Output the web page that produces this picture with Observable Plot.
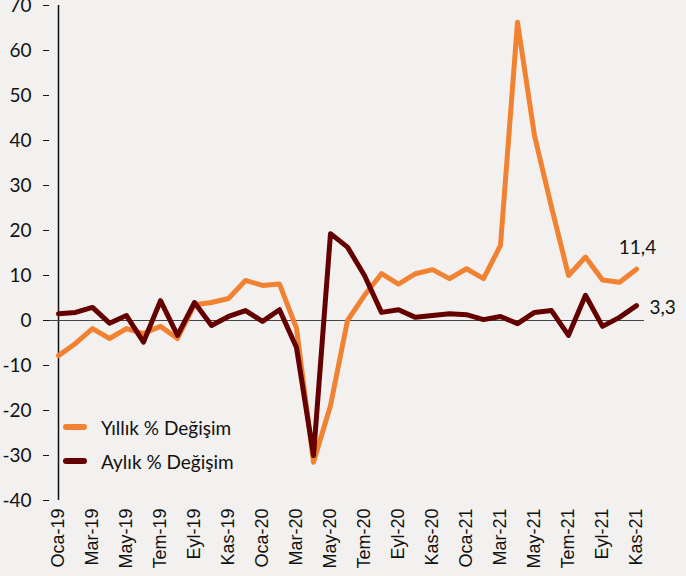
<!DOCTYPE html>
<html>
<head>
<meta charset="utf-8">
<script src="https://cdn.jsdelivr.net/npm/d3@7"></script>
<script src="https://cdn.jsdelivr.net/npm/@observablehq/plot@0.6"></script>
<style>
  html, body { margin: 0; padding: 0; background: #f2f1ef; }
  #wrap { position: relative; width: 686px; height: 576px; }
  #legend { position: absolute; left: 63px; top: 410px; font-family: Lato, "Open Sans", sans-serif; font-size: 19px; color: #111; }
  .row { display: flex; align-items: center; height: 34px; }
  .sw { width: 24px; height: 6px; border-radius: 3px; margin-right: 14px; }
</style>
</head>
<body>
<div id="wrap"></div>
<script>
const months = ["Oca-19","Şub-19","Mar-19","Nis-19","May-19","Haz-19","Tem-19","Ağu-19","Eyl-19","Eki-19","Kas-19","Ara-19",
  "Oca-20","Şub-20","Mar-20","Nis-20","May-20","Haz-20","Tem-20","Ağu-20","Eyl-20","Eki-20","Kas-20","Ara-20",
  "Oca-21","Şub-21","Mar-21","Nis-21","May-21","Haz-21","Tem-21","Ağu-21","Eyl-21","Eki-21","Kas-21"];
const yillik = [-7.8,-5.1,-1.8,-4.0,-1.8,-2.9,-1.3,-4.0,3.5,4.0,4.9,8.9,
  7.8,8.1,-1.7,-31.5,-18.9,0.0,5.6,10.4,8.1,10.4,11.3,9.3,
  11.5,9.3,16.7,66.3,41.1,25.2,10.0,14.1,9.0,8.5,11.4];
const aylik = [1.5,1.8,2.9,-0.6,1.1,-4.8,4.4,-3.3,4.0,-1.1,0.9,2.2,
  -0.2,2.4,-6.0,-30.0,19.3,16.3,10.0,1.8,2.4,0.7,1.1,1.5,
  1.3,0.2,0.9,-0.7,1.8,2.2,-3.3,5.6,-1.3,0.7,3.3];
const seriesNames = ["Yıllık % Değişim","Aylık % Değişim"];
const colors = ["#f08232","#650000"];
const yTicks = [-40,-30,-20,-10,0,10,20,30,40,50,60,70];
const xTicks = months.filter((_, i) => i % 2 === 0);

const rowsY = months.map((m, i) => ({month: m, value: yillik[i]}));
const rowsA = months.map((m, i) => ({month: m, value: aylik[i]}));
const last = months.length - 1;

const chart = Plot.plot({
  width: 686,
  height: 576,
  marginLeft: 49,
  marginRight: 42,
  marginTop: 5,
  marginBottom: 76,
  style: {background: "#f2f1ef", fontFamily: "Lato, 'Open Sans', sans-serif", color: "#111"},
  x: {type: "point", domain: months, padding: 0, axis: null},
  y: {domain: [-40, 70]},
  marks: [
    Plot.axisY({ticks: yTicks, tickSize: 6, tickPadding: 12, fontSize: 19, label: null, tickFormat: d => String(d)}),
    Plot.ruleX([months[0]], {y1: -40, y2: 70, stroke: "#111", strokeWidth: 1.5}),
    Plot.text(xTicks, {x: d => d, frameAnchor: "bottom", rotate: -90, textAnchor: "end", lineAnchor: "middle",
      dy: 8, fontSize: 18, fontFamily: "'Liberation Sans', Arial, sans-serif", fill: "#111"}),
    Plot.ruleY([0], {stroke: "#444", strokeWidth: 1.2}),
    Plot.line(rowsY, {x: "month", y: "value", stroke: colors[0], strokeWidth: 5, strokeLinejoin: "round", strokeLinecap: "round"}),
    Plot.line(rowsA, {x: "month", y: "value", stroke: colors[1], strokeWidth: 5, strokeLinejoin: "round", strokeLinecap: "round"}),
    Plot.text([rowsY[last]], {x: "month", y: "value", text: d => d.value.toFixed(1).replace(".", ","), dy: -21, dx: 1, fontSize: 19, fill: "#111"}),
    Plot.text([rowsA[last]], {x: "month", y: "value", text: d => d.value.toFixed(1).replace(".", ","), dx: 13, dy: 2, textAnchor: "start", fontSize: 19, fill: "#111"})
  ]
});
const wrap = document.getElementById("wrap");
wrap.appendChild(chart);
const legend = document.createElement("div");
legend.id = "legend";
seriesNames.forEach((n, i) => {
  const row = document.createElement("div");
  row.className = "row";
  const sw = document.createElement("div");
  sw.className = "sw";
  sw.style.background = colors[i];
  const t = document.createElement("span");
  t.textContent = n;
  row.appendChild(sw); row.appendChild(t);
  legend.appendChild(row);
});
wrap.appendChild(legend);
</script>
</body>
</html>
